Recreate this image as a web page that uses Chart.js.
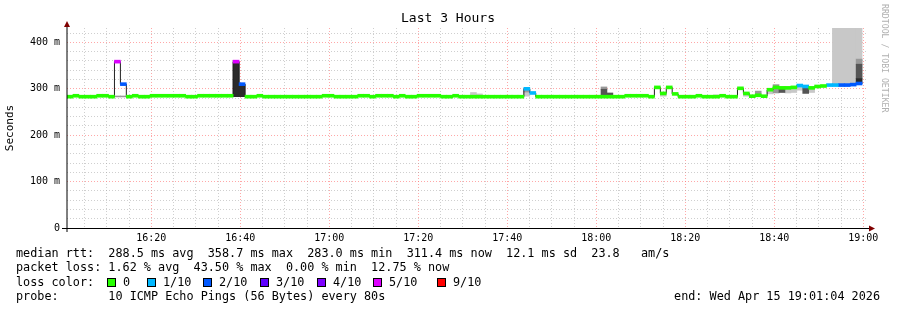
<!DOCTYPE html>
<html>
<head>
<meta charset="utf-8">
<title>Last 3 Hours</title>
<script src="https://cdn.jsdelivr.net/npm/chart.js@4.4.1/dist/chart.umd.min.js"></script>
<style>
  html, body { margin: 0; padding: 0; background: #fff; }
</style>
</head>
<body>
<canvas id="smokeChart" width="897" height="310"></canvas>
<script>
// rrd steps of 80 s, first one starts at 16:01:04 (minutes since midnight)
const startMinute = 961 + 4 / 60;
const stepMinutes = 80 / 60;
const stepCount = 135;

// median rtt for each step, ms (null = no data yet)
const medianRtt = [
  283, 285, 283, 283, 283, 285, 285, 283, 358.5, 310,
  283, 285, 283, 283, 285, 285, 285, 285, 285, 285,
  283, 283, 285, 285, 285, 285, 285, 285, 358.5, 310,
  283, 283, 285, 283, 283, 283, 283, 283, 283, 283,
  283, 283, 283, 285, 285, 283, 283, 283, 283, 285,
  285, 283, 285, 285, 285, 283, 285, 283, 283, 285,
  285, 285, 285, 283, 283, 285, 283, 283, 283, 283,
  283, 283, 283, 283, 283, 283, 283, 300, 291, 283,
  283, 283, 283, 283, 283, 283, 283, 283, 283, 283,
  283, 283, 283, 283, 285, 285, 285, 285, 283, 303,
  290, 303, 289, 283, 283, 283, 285, 283, 283, 283,
  285, 283, 283, 301, 290, 284, 286, 284, 298, 303,
  302, 302, 303, 307, 305, 302, 305, 306, 308, 308,
  308, 308, 309, 311.4, null
];

// lost pings for each step (out of 10)
const lostPings = [
  0, 0, 0, 0, 0, 0, 0, 0, 5, 2,
  0, 0, 0, 0, 0, 0, 0, 0, 0, 0,
  0, 0, 0, 0, 0, 0, 0, 0, 5, 2,
  0, 0, 0, 0, 0, 0, 0, 0, 0, 0,
  0, 0, 0, 0, 0, 0, 0, 0, 0, 0,
  0, 0, 0, 0, 0, 0, 0, 0, 0, 0,
  0, 0, 0, 0, 0, 0, 0, 0, 0, 0,
  0, 0, 0, 0, 0, 0, 0, 1, 1, 0,
  0, 0, 0, 0, 0, 0, 0, 0, 0, 0,
  0, 0, 0, 0, 0, 0, 0, 0, 0, 0,
  0, 0, 0, 0, 0, 0, 0, 0, 0, 0,
  0, 0, 0, 0, 0, 0, 0, 0, 0, 0,
  0, 0, 0, 1, 1, 0, 0, 0, 1, 1,
  2, 2, 2, 2, null
];

// smoke (spread of the single pings): [step, low ms, high ms]
const smokeLight = [
  [68, 284, 292], [69, 284, 289], [77, 284, 293], [100, 284, 288], [109, 283, 287],
  [114, 284, 288], [118, 289, 296], [121, 291, 301], [122, 292, 303], [123, 297, 306],
  [125, 292, 302], [129, 308, 431], [130, 308, 431], [131, 308, 431], [132, 309, 431],
  [133, 311, 431]
];
const smokeMid = [
  [8, 282.5, 284.5], [9, 282.5, 284.5], [77, 293, 297], [90, 299, 304], [116, 288, 295],
  [119, 291, 309], [133, 353, 364]
];
const smokeDark = [
  [90, 284, 299], [91, 284, 291], [120, 292, 300], [124, 290, 302], [133, 322, 353]
];
const smokeDeep = [
  [28, 283, 358.5], [29, 283, 310], [133, 311, 322]
];

const lossLevels = [0, 1, 2, 3, 4, 5, 9];
const lossLabels = ['0', '1/10', '2/10', '3/10', '4/10', '5/10', '9/10'];
const lossColors = ['#26ff00', '#00b8ff', '#0059ff', '#5e00ff', '#7e00ff', '#dd00ff', '#ff0000'];

const xTickLabels = ['16:20', '16:40', '17:00', '17:20', '17:40', '18:00', '18:20', '18:40', '19:00'];
const yTickLabels = ['0', '100 m', '200 m', '300 m', '400 m'];

const legendLines = [
  'median rtt:  288.5 ms avg  358.7 ms max  283.0 ms min  311.4 ms now  12.1 ms sd  23.8   am/s',
  'packet loss: 1.62 % avg  43.50 % max  0.00 % min  12.75 % now',
  'loss color:',
  'probe:       10 ICMP Echo Pings (56 Bytes) every 80s'
];
const endText = 'end: Wed Apr 15 19:01:04 2026';

const MONO = '"DejaVu Sans Mono", monospace';
const bandHalf = 3.2;
const minorGrid = 'rgba(160,160,160,0.5)';
const majorGrid = 'rgba(255,110,110,0.6)';

function stepCenter(i) {
  return startMinute + (i + 0.5) * stepMinutes;
}

function smokeData(list) {
  return list.map(([i, lo, hi]) => ({ x: stepCenter(i), y: [lo, hi] }));
}

function smokeSet(list, color) {
  return {
    type: 'bar', data: smokeData(list), backgroundColor: color,
    grouped: false, barPercentage: 1, categoryPercentage: 1, borderWidth: 0, order: 5
  };
}

const bandSets = lossLevels.map((lvl, k) => ({
  type: 'bar',
  data: medianRtt
    .map((v, i) => (v !== null && lostPings[i] === lvl) ? { x: stepCenter(i), y: [v - bandHalf, v + bandHalf] } : null)
    .filter(p => p),
  backgroundColor: lossColors[k],
  grouped: false, barPercentage: 1, categoryPercentage: 1, borderWidth: 0, order: 1
}));

const medianLine = {
  type: 'line',
  data: medianRtt.map((v, i) => ({ x: stepCenter(i), y: v })),
  borderColor: '#202020', borderWidth: 1, pointRadius: 0,
  stepped: 'middle', spanGaps: false, order: 3
};

const xTicks = [];
for (let m = 965; m <= 1140; m += 5) xTicks.push(m);
const yTicks = [];
for (let v = 0; v <= 420; v += 20) yTicks.push(v);

const decorations = {
  id: 'decorations',
  afterDraw(chart) {
    const ctx = chart.ctx;
    const a = chart.chartArea;
    ctx.save();

    // axes with arrows
    ctx.strokeStyle = '#000';
    ctx.lineWidth = 1;
    ctx.beginPath();
    ctx.moveTo(a.left, a.bottom + 4);
    ctx.lineTo(a.left, a.top - 4);
    ctx.stroke();
    ctx.beginPath();
    ctx.moveTo(a.left - 5, a.bottom + 0.5);
    ctx.lineTo(a.right + 2, a.bottom + 0.5);
    ctx.stroke();
    ctx.fillStyle = '#800000';
    ctx.beginPath();
    ctx.moveTo(a.left, a.top - 7);
    ctx.lineTo(a.left - 3, a.top - 1);
    ctx.lineTo(a.left + 3, a.top - 1);
    ctx.closePath();
    ctx.fill();
    ctx.beginPath();
    ctx.moveTo(a.right + 7, a.bottom + 0.5);
    ctx.lineTo(a.right + 1, a.bottom - 2.5);
    ctx.lineTo(a.right + 1, a.bottom + 3.5);
    ctx.closePath();
    ctx.fill();

    // title
    ctx.fillStyle = '#000';
    ctx.font = '13px ' + MONO;
    ctx.textAlign = 'center';
    ctx.textBaseline = 'middle';
    ctx.fillText('Last 3 Hours', 448, 19);

    // credit on the right
    ctx.save();
    ctx.translate(884, 4);
    ctx.rotate(Math.PI / 2);
    ctx.fillStyle = '#b0b0b0';
    ctx.font = '8.2px ' + MONO;
    ctx.textAlign = 'left';
    ctx.textBaseline = 'middle';
    ctx.fillText('RRDTOOL / TOBI OETIKER', 0, 0);
    ctx.restore();

    // legend block
    ctx.font = '11.8px ' + MONO;
    ctx.textAlign = 'left';
    ctx.textBaseline = 'middle';
    ctx.fillStyle = '#000';
    const rows = [253.5, 268, 282.5, 296.5];
    legendLines.forEach((t, i) => ctx.fillText(t, 16, rows[i]));
    const boxX = [107, 147, 203, 260, 317, 373, 437];
    lossLabels.forEach((lab, i) => {
      ctx.fillStyle = lossColors[i];
      ctx.fillRect(boxX[i], rows[2] - 4.5, 9, 9);
      ctx.strokeStyle = '#000';
      ctx.strokeRect(boxX[i] + 0.5, rows[2] - 4, 8, 8);
      ctx.fillStyle = '#000';
      ctx.fillText(lab, boxX[i] + 16, rows[2]);
    });
    ctx.textAlign = 'right';
    ctx.fillText(endText, 880, rows[3]);
    ctx.restore();
  }
};

new Chart(document.getElementById('smokeChart'), {
  type: 'bar',
  data: {
    datasets: [
      ...bandSets,
      medianLine,
      smokeSet(smokeDeep, '#2b2b2b'),
      smokeSet(smokeDark, '#555555'),
      smokeSet(smokeMid, '#999999'),
      smokeSet(smokeLight, '#c8c8c8')
    ]
  },
  options: {
    responsive: false,
    animation: false,
    devicePixelRatio: 1,
    layout: { padding: { top: 28, right: 29, bottom: 0, left: 0 } },
    plugins: { legend: { display: false }, tooltip: { enabled: false } },
    scales: {
      x: {
        type: 'linear',
        min: startMinute,
        max: startMinute + stepCount * stepMinutes,
        offset: false,
        afterFit(s) { s.height = 82; },
        afterBuildTicks(s) { s.ticks = xTicks.map(v => ({ value: v })); },
        grid: {
          offset: false,
          drawTicks: false,
          color: c => (c.tick && c.tick.value % 20 === 0) ? majorGrid : minorGrid
        },
        border: { display: false, dash: [1, 2] },
        ticks: {
          autoSkip: false, maxRotation: 0, padding: 4, color: '#000',
          font: { family: MONO, size: 10 },
          callback: v => v % 20 === 0 ? xTickLabels[(v - 980) / 20] : ''
        }
      },
      y: {
        type: 'linear',
        min: 0,
        max: 431,
        afterFit(s) { s.width = 67; },
        afterBuildTicks(s) { s.ticks = yTicks.map(v => ({ value: v })); },
        grid: {
          drawTicks: false,
          color: c => (c.tick && c.tick.value % 100 === 0) ? majorGrid : minorGrid
        },
        border: { display: false, dash: [1, 2] },
        title: {
          display: true, text: 'Seconds', color: '#000',
          font: { family: MONO, size: 11 }
        },
        ticks: {
          autoSkip: false, padding: 7, color: '#000',
          font: { family: MONO, size: 10 },
          callback: v => v % 100 === 0 ? yTickLabels[v / 100] : ''
        }
      }
    }
  },
  plugins: [decorations]
});
</script>
</body>
</html>
